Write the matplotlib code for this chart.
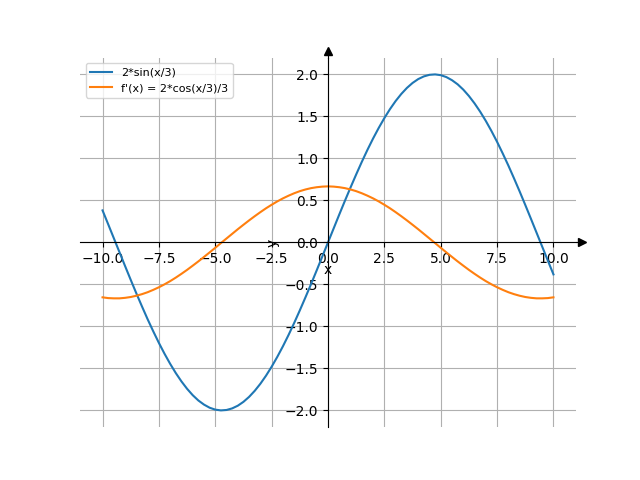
import numpy as np
import matplotlib
matplotlib.use("Agg")
import matplotlib.pyplot as plt

# sample points, x from -10 to 10 every 0.25
x = np.linspace(-10, 10, 81)
f = [0.381, 0.216, 0.050, -0.116, -0.282, -0.446, -0.607, -0.763, -0.915, -1.059,
     -1.197, -1.326, -1.446, -1.556, -1.655, -1.743, -1.819, -1.882, -1.931, -1.968,
     -1.991, -2.000, -1.995, -1.976, -1.944, -1.898, -1.839, -1.767, -1.683, -1.587,
     -1.480, -1.363, -1.237, -1.102, -0.959, -0.809, -0.654, -0.495, -0.332, -0.166,
     0.000,
     0.166, 0.332, 0.495, 0.654, 0.809, 0.959, 1.102, 1.237, 1.363, 1.480,
     1.587, 1.683, 1.767, 1.839, 1.898, 1.944, 1.976, 1.995, 2.000, 1.991,
     1.968, 1.931, 1.882, 1.819, 1.743, 1.655, 1.556, 1.446, 1.326, 1.197,
     1.059, 0.915, 0.763, 0.607, 0.446, 0.282, 0.116, -0.050, -0.216, -0.381]
df = [-0.654, -0.663, -0.666, -0.666, -0.660, -0.650, -0.635, -0.616, -0.593, -0.565,
      -0.534, -0.499, -0.461, -0.419, -0.374, -0.327, -0.277, -0.226, -0.173, -0.119,
      -0.064, -0.008, 0.047, 0.102, 0.157, 0.210, 0.262, 0.312, 0.360, 0.406,
      0.448, 0.488, 0.524, 0.556, 0.585, 0.610, 0.630, 0.646, 0.657, 0.664,
      0.667,
      0.664, 0.657, 0.646, 0.630, 0.610, 0.585, 0.556, 0.524, 0.488, 0.448,
      0.406, 0.360, 0.312, 0.262, 0.210, 0.157, 0.102, 0.047, -0.008, -0.064,
      -0.119, -0.173, -0.226, -0.277, -0.327, -0.374, -0.419, -0.461, -0.499, -0.534,
      -0.565, -0.593, -0.616, -0.635, -0.650, -0.660, -0.666, -0.666, -0.663, -0.654]
labels = ["2*sin(x/3)", "f'(x) = 2*cos(x/3)/3"]

fig, ax = plt.subplots(figsize=(6.4, 4.8), dpi=100)

ax.plot(x, f, label=labels[0])
ax.plot(x, df, label=labels[1])

# axes through the origin, arrows just past the ends
ax.spines["left"].set_position("zero")
ax.spines["bottom"].set_position("zero")
ax.spines["right"].set_visible(False)
ax.spines["top"].set_visible(False)
ax.plot([1, 1.012], [0, 0], "k-", lw=0.8, markevery=[1], marker=">",
        transform=ax.get_yaxis_transform(), clip_on=False)
ax.plot([0, 0], [1, 1.018], "k-", lw=0.8, markevery=[1], marker="^",
        transform=ax.get_xaxis_transform(), clip_on=False)

ax.grid(True)
ax.set_xlabel("x", labelpad=-2)
ax.set_ylabel("y")
ax.legend(loc="upper left", fontsize=8)

plt.savefig("out.png")
